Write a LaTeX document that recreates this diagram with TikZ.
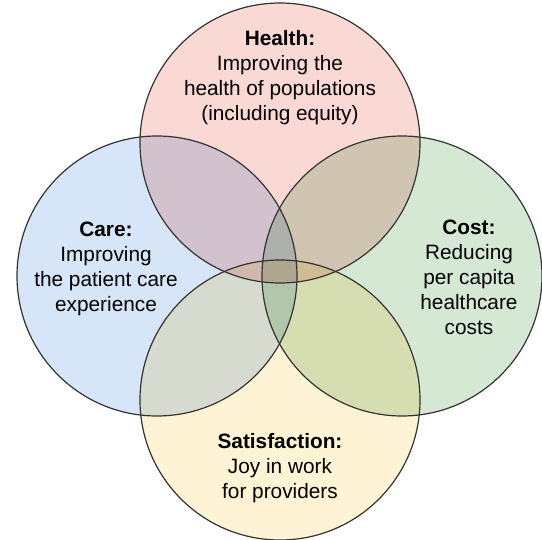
\documentclass[tikz,border=0pt]{standalone}
\usepackage{fontspec}
\setmainfont{Liberation Sans}
\definecolor{healthc}{HTML}{FAD9D5}
\definecolor{carec}{HTML}{D6E5F7}
\definecolor{costc}{HTML}{D5E8D4}
\definecolor{satc}{HTML}{FFF3D6}
\definecolor{edgec}{HTML}{333333}
\tikzset{
  ring/.style={draw=edgec, line width=1.2pt},
  label/.style={align=center, font=\fontsize{20.8}{25}\selectfont, text=black, inner sep=0pt}
}
\begin{document}
\begin{tikzpicture}[x=1pt,y=-1pt]
\useasboundingbox (0,0) rectangle (542,540);
\coordinate (ch) at (280,143);
\coordinate (cl) at (157,276);
\coordinate (cr) at (402,276);
\coordinate (cb) at (280,400);
\begin{scope}[blend group=multiply]
  \fill[healthc] (ch) circle (140pt);
  \fill[carec] (cl) circle (140pt);
  \fill[costc] (cr) circle (140pt);
  \fill[satc] (cb) circle (140pt);
\end{scope}
\draw[ring] (ch) circle (140pt);
\draw[ring] (cl) circle (140pt);
\draw[ring] (cr) circle (140pt);
\draw[ring] (cb) circle (140pt);
\node[label] (health) at (280,78) {\textbf{Health:}\\Improving the\\health of populations\\(including equity)};
\node[label] (care) at (106,269) {\textbf{Care:}\\Improving\\the patient care\\experience};
\node[label] (cost) at (469,277) {\textbf{Cost:}\\Reducing\\per capita\\healthcare\\costs};
\node[label] (sat) at (280,468) {\textbf{Satisfaction:}\\Joy in work\\for providers};
\end{tikzpicture}
\end{document}
